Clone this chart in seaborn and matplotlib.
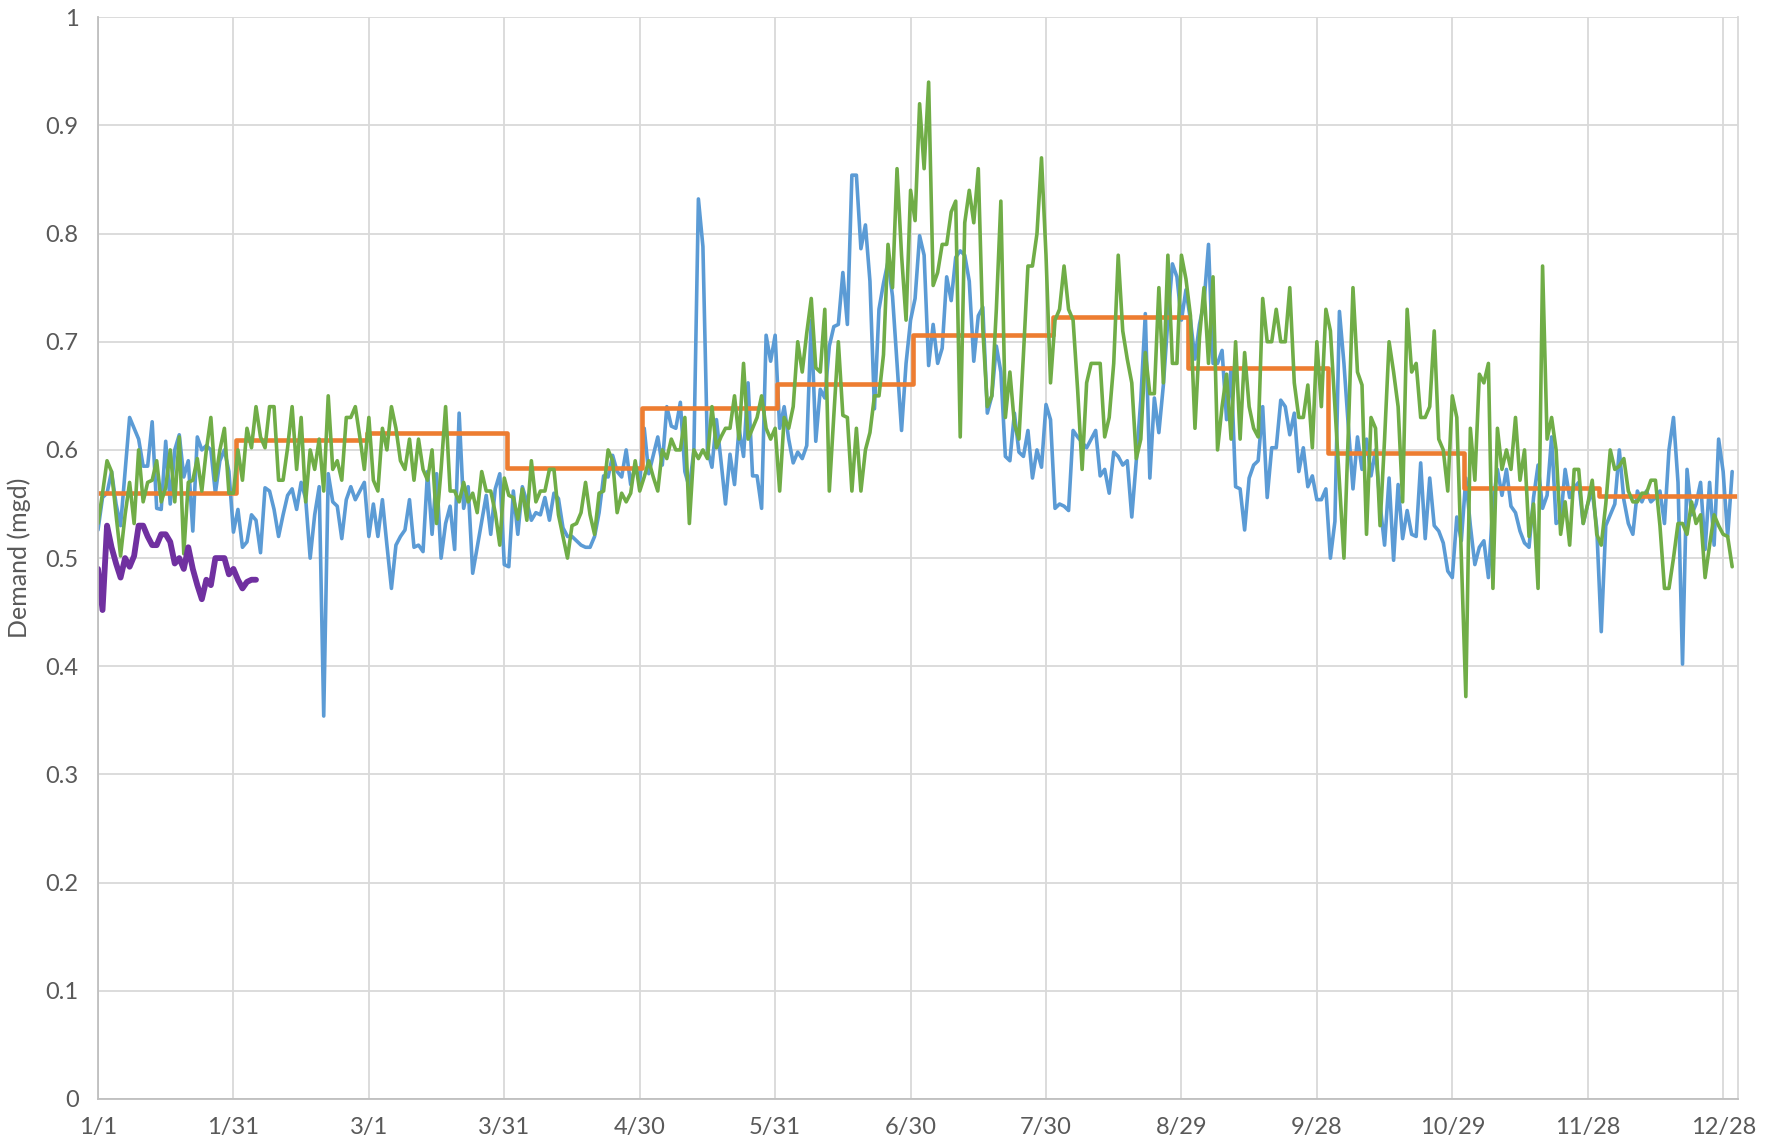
import matplotlib.pyplot as plt
import numpy as np
import seaborn as sns

# Daily demand (mgd), one value per day starting 1/1
blue_demand = [
    0.526, 0.556, 0.56, 0.58, 0.55, 0.53, 0.58, 0.63, 0.62, 0.61, 0.585, 0.585, 0.626, 0.546, 0.545, 0.608,
    0.55, 0.60, 0.614, 0.575, 0.59, 0.525, 0.612, 0.60, 0.604, 0.60, 0.56, 0.59, 0.60, 0.58, 0.524, 0.545,
    0.51, 0.515, 0.54, 0.535, 0.505, 0.565, 0.562, 0.545, 0.52, 0.54, 0.558, 0.564, 0.545, 0.57, 0.555, 0.50,
    0.54, 0.566, 0.354, 0.578, 0.552, 0.548, 0.518, 0.554, 0.566, 0.554, 0.562, 0.57, 0.52, 0.55, 0.52, 0.554,
    0.512, 0.472, 0.512, 0.52, 0.526, 0.554, 0.51, 0.512, 0.506, 0.58, 0.522, 0.578, 0.50, 0.532, 0.548, 0.508,
    0.634, 0.546, 0.566, 0.486, 0.51, 0.534, 0.558, 0.522, 0.564, 0.578, 0.494, 0.492, 0.562, 0.522, 0.566, 0.552,
    0.535, 0.542, 0.54, 0.556, 0.535, 0.56, 0.555, 0.528, 0.52, 0.52, 0.516, 0.512, 0.51, 0.51, 0.52, 0.542,
    0.576, 0.575, 0.595, 0.58, 0.575, 0.60, 0.568, 0.585, 0.57, 0.62, 0.578, 0.595, 0.612, 0.586, 0.64, 0.622,
    0.62, 0.644, 0.58, 0.565, 0.60, 0.832, 0.788, 0.60, 0.584, 0.628, 0.59, 0.55, 0.596, 0.568, 0.62, 0.594,
    0.662, 0.576, 0.576, 0.546, 0.706, 0.682, 0.706, 0.62, 0.64, 0.61, 0.588, 0.598, 0.592, 0.604, 0.72, 0.608,
    0.656, 0.648, 0.696, 0.714, 0.716, 0.764, 0.716, 0.854, 0.854, 0.786, 0.808, 0.756, 0.638, 0.73, 0.754, 0.774,
    0.742, 0.68, 0.618, 0.68, 0.72, 0.74, 0.798, 0.78, 0.678, 0.716, 0.68, 0.694, 0.76, 0.738, 0.778, 0.784,
    0.78, 0.756, 0.682, 0.724, 0.732, 0.634, 0.65, 0.696, 0.672, 0.594, 0.59, 0.634, 0.598, 0.594, 0.618, 0.574,
    0.60, 0.584, 0.642, 0.628, 0.546, 0.55, 0.548, 0.544, 0.618, 0.612, 0.607, 0.602, 0.61, 0.618, 0.576, 0.582,
    0.56,
    0.598, 0.594, 0.586, 0.59, 0.538, 0.59, 0.646, 0.726, 0.574, 0.648, 0.616, 0.66, 0.72, 0.772, 0.76, 0.72,
    0.748, 0.72, 0.684, 0.716, 0.736, 0.79, 0.68, 0.68, 0.692, 0.628, 0.676, 0.566, 0.564, 0.526, 0.574, 0.586,
    0.59, 0.64, 0.556, 0.602, 0.602, 0.646, 0.64, 0.614, 0.634, 0.58, 0.602, 0.566, 0.576, 0.554, 0.554, 0.564,
    0.50, 0.534, 0.728, 0.68, 0.62, 0.564, 0.612, 0.582, 0.61, 0.576, 0.60, 0.55, 0.512, 0.574, 0.498, 0.568,
    0.518, 0.544, 0.522, 0.52, 0.588, 0.518, 0.574, 0.53, 0.525, 0.514, 0.488, 0.482, 0.538, 0.516, 0.574, 0.53,
    0.494, 0.51, 0.516, 0.482, 0.55, 0.582, 0.558, 0.582, 0.548, 0.542, 0.525, 0.514, 0.51, 0.556, 0.586, 0.546,
    0.558, 0.612, 0.532, 0.535, 0.582, 0.556, 0.565, 0.57, 0.532, 0.55, 0.562, 0.528, 0.432, 0.53, 0.54, 0.55,
    0.60, 0.554, 0.532, 0.522, 0.562, 0.552, 0.562, 0.552, 0.556, 0.562, 0.532, 0.60, 0.63, 0.57, 0.402, 0.582,
    0.54, 0.55, 0.57, 0.508, 0.57, 0.512, 0.61, 0.58, 0.52, 0.58,
]

green_demand = [
    0.532, 0.56, 0.59, 0.58, 0.54, 0.502, 0.54, 0.57, 0.532, 0.60, 0.552, 0.57, 0.572, 0.59, 0.552, 0.565,
    0.60, 0.552, 0.612, 0.504, 0.57, 0.572, 0.592, 0.562, 0.60, 0.63, 0.572, 0.60, 0.62, 0.56, 0.56, 0.60,
    0.572, 0.62, 0.602, 0.64, 0.612, 0.602, 0.64, 0.64, 0.572, 0.572, 0.602, 0.64, 0.582, 0.63, 0.552, 0.60,
    0.582, 0.61, 0.562, 0.65, 0.582, 0.59, 0.572, 0.63, 0.63, 0.64, 0.612, 0.582, 0.63, 0.572, 0.562, 0.62,
    0.60, 0.64, 0.62, 0.59, 0.582, 0.61, 0.572, 0.61, 0.582, 0.572, 0.60, 0.532, 0.582, 0.64, 0.562, 0.562,
    0.552, 0.57, 0.552, 0.56, 0.542, 0.58, 0.562, 0.562, 0.542, 0.512, 0.574, 0.558, 0.556, 0.536, 0.564, 0.535,
    0.59, 0.552, 0.562, 0.562, 0.582, 0.582, 0.54, 0.52, 0.50, 0.53, 0.532, 0.542, 0.57, 0.54, 0.522, 0.56,
    0.562, 0.60, 0.59, 0.542, 0.56, 0.552, 0.56, 0.59, 0.562, 0.575, 0.59, 0.575, 0.562, 0.60, 0.592, 0.61,
    0.60, 0.60, 0.63, 0.532, 0.60, 0.592, 0.60, 0.592, 0.64, 0.602, 0.612, 0.62, 0.62, 0.65, 0.61, 0.68,
    0.61, 0.62, 0.63, 0.65, 0.62, 0.61, 0.62, 0.562, 0.63, 0.62, 0.64, 0.70, 0.672, 0.708, 0.74, 0.676,
    0.672, 0.73, 0.562, 0.632, 0.70, 0.632, 0.63, 0.562, 0.62, 0.562, 0.60, 0.616, 0.65, 0.65, 0.688, 0.79,
    0.75, 0.86, 0.78, 0.72, 0.84, 0.812, 0.92, 0.86, 0.94, 0.752, 0.764, 0.79, 0.79, 0.82, 0.83, 0.612,
    0.81, 0.84, 0.81, 0.86, 0.712, 0.64, 0.65, 0.73, 0.83, 0.63, 0.672, 0.624, 0.61, 0.688, 0.77, 0.77,
    0.80, 0.87, 0.78, 0.662, 0.72, 0.73, 0.77, 0.73, 0.72, 0.656, 0.582, 0.662, 0.68, 0.68, 0.68, 0.612,
    0.63,
    0.68, 0.78, 0.71, 0.684, 0.662, 0.592, 0.61, 0.69, 0.652, 0.652, 0.75, 0.662, 0.78, 0.68, 0.68, 0.78,
    0.758, 0.724, 0.62, 0.704, 0.75, 0.68, 0.76, 0.60, 0.64, 0.67, 0.61, 0.70, 0.61, 0.69, 0.64, 0.62,
    0.612, 0.74, 0.70, 0.70, 0.73, 0.70, 0.70, 0.75, 0.662, 0.63, 0.63, 0.66, 0.602, 0.70, 0.64, 0.73,
    0.71, 0.64, 0.57, 0.50, 0.62, 0.75, 0.672, 0.66, 0.522, 0.63, 0.62, 0.53, 0.61, 0.70, 0.672, 0.64,
    0.552, 0.73, 0.672, 0.68, 0.63, 0.63, 0.64, 0.71, 0.61, 0.60, 0.562, 0.65, 0.63, 0.50, 0.372, 0.62,
    0.572, 0.67, 0.662, 0.68, 0.472, 0.62, 0.582, 0.60, 0.582, 0.63, 0.572, 0.60, 0.52, 0.55, 0.472, 0.77,
    0.61, 0.63, 0.60, 0.522, 0.552, 0.512, 0.582, 0.582, 0.532, 0.55, 0.572, 0.522, 0.512, 0.55, 0.60, 0.582,
    0.585, 0.592, 0.562, 0.552, 0.552, 0.56, 0.56, 0.572, 0.572, 0.53, 0.472, 0.472, 0.50, 0.532, 0.532, 0.522,
    0.552, 0.532, 0.54, 0.482, 0.512, 0.54, 0.53, 0.522, 0.52, 0.492,
]

# current year, first weeks only
purple_demand = [
    0.49, 0.452, 0.53, 0.51, 0.495, 0.482, 0.50, 0.492, 0.502, 0.53, 0.53, 0.52, 0.512, 0.512, 0.522, 0.522,
    0.515, 0.495, 0.50, 0.49, 0.51, 0.49, 0.475, 0.462, 0.48, 0.475, 0.50, 0.50, 0.50, 0.485, 0.49, 0.48,
    0.472, 0.478, 0.48, 0.48,
]

# monthly average demand and number of days each value covers
month_avg = [0.560, 0.609, 0.616, 0.583, 0.639, 0.661, 0.706, 0.723, 0.676, 0.597, 0.565, 0.557]
month_days = [31, 29, 31, 30, 30, 30, 31, 30, 31, 30, 30, 31]

tick_labels = ["1/1", "1/31", "3/1", "3/31", "4/30", "5/31", "6/30", "7/30",
               "8/29", "9/28", "10/29", "11/28", "12/28"]

sns.set_style("whitegrid")
plt.rcParams['font.family'] = ['Lato', 'DejaVu Sans']

fig, ax = plt.subplots(figsize=(17.69, 11.48), dpi=100)
fig.subplots_adjust(left=0.0554, right=0.9825, top=0.985, bottom=0.0427)

monthly = np.repeat(month_avg, month_days)

sns.lineplot(x=np.arange(len(blue_demand)), y=blue_demand, color="#5B9BD5", linewidth=2.6, ax=ax)
sns.lineplot(x=np.arange(len(monthly)), y=monthly, color="#ED7D31", linewidth=3.3,
             drawstyle="steps-mid", ax=ax)
sns.lineplot(x=np.arange(len(green_demand)), y=green_demand, color="#70AD47", linewidth=2.6, ax=ax)
sns.lineplot(x=np.arange(len(purple_demand)), y=purple_demand, color="#7030A0", linewidth=4.2, ax=ax)

ax.set_xlim(0, 363.3)
ax.set_ylim(0, 1)
ax.set_xticks(np.arange(0, 30 * len(tick_labels), 30))
ax.set_xticklabels(tick_labels)
yticks = np.round(np.arange(0, 1.01, 0.1), 1)
ax.set_yticks(yticks)
ax.set_yticklabels([f"{v:g}" for v in yticks])

ax.grid(True, color="#D9D9D9", linewidth=1.3)
ax.tick_params(axis="both", length=0, labelsize=17, colors="#595959")
ax.tick_params(axis="y", pad=14)
ax.tick_params(axis="x", pad=13)
ax.set_ylabel("Demand (mgd)", fontsize=18, color="#595959", labelpad=10)
ax.set_xlabel("")

for side in ["left", "bottom"]:
    ax.spines[side].set_color("#BFBFBF")
    ax.spines[side].set_linewidth(1.3)
ax.spines["right"].set_color("#D9D9D9")
ax.spines["right"].set_linewidth(1.3)
ax.spines["top"].set_visible(False)

plt.savefig("out.png", dpi=100)
